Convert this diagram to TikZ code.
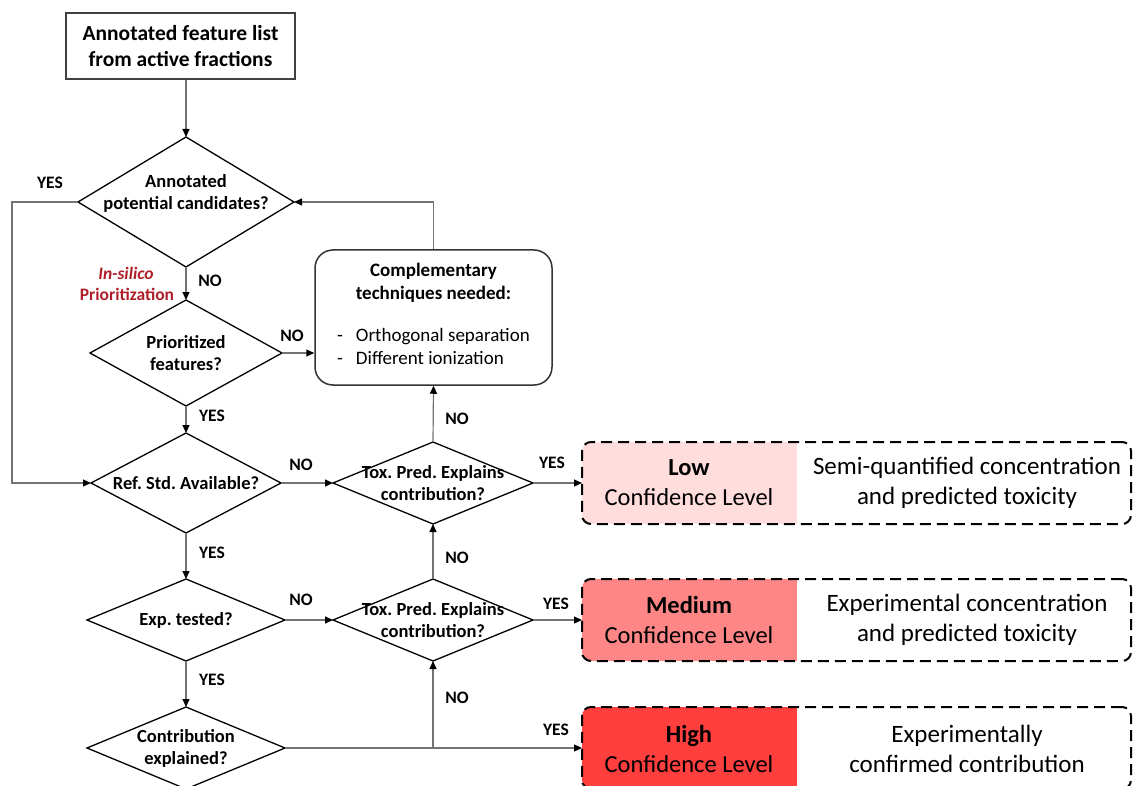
\documentclass[tikz,border=0pt]{standalone}
\usepackage{fontspec}
\setmainfont{Carlito}
\frenchspacing
\usetikzlibrary{shapes.geometric,arrows.meta,backgrounds}
\definecolor{lowred}{RGB}{255,221,221}
\definecolor{medred}{RGB}{255,134,134}
\definecolor{highred}{RGB}{255,62,62}
\definecolor{silred}{RGB}{175,30,40}
\definecolor{linegray}{RGB}{115,115,115}
\tikzset{
  decision/.style={diamond, draw=black, line width=1.3pt, inner xsep=-55pt, inner ysep=-20pt,
    outer sep=0pt, align=center, font=\fontsize{18.5}{22}\selectfont\bfseries},
  flow/.style={draw=linegray, line width=1.2pt, -{Triangle[length=8pt,width=7pt,color=black]}},
  yn/.style={font=\fontsize{17.5}{20}\selectfont\bfseries},
  outcome/.style={draw=black, line width=2pt, dash pattern=on 11pt off 6pt, rounded corners=9pt,
    minimum width=549pt, minimum height=82pt, outer sep=0pt},
  lvl/.style={align=center, font=\fontsize{24.5}{30}\selectfont},
  desc/.style={align=center, font=\fontsize{25}{30}\selectfont},
  insilico/.style={text=silred, font=\fontsize{17.5}{20}\selectfont\bfseries}
}
\begin{document}
\begin{tikzpicture}[x=1pt,y=-1pt]
\useasboundingbox (0,0) rectangle (1134,786);
%\draw[help lines,step=50] (0,0) grid (1134,786);

\node[draw=black!75, line width=1.5pt, minimum width=229pt, minimum height=66pt, align=center,
  font=\fontsize{21.5}{26}\selectfont\bfseries] (feat) at (180.5,46) {Annotated feature list\\from active fractions};

\node[decision, minimum width=216pt, minimum height=130pt, text depth=20pt] (d1) at (186,202) {Annotated\\potential candidates?};
\node[decision, minimum width=192pt, minimum height=106pt] (prio) at (186,353) {Prioritized\\features?};
\node[decision, minimum width=190pt, minimum height=100pt] (ref) at (186,483) {Ref. Std. Available?};
\node[decision, minimum width=198pt, minimum height=82pt] (exp) at (186,620) {Exp. tested?};
\node[decision, minimum width=198pt, minimum height=82pt] (contr) at (186,748) {Contribution\\explained?};
\node[decision, minimum width=200pt, minimum height=82pt] (tox1) at (433,483) {Tox. Pred. Explains\\contribution?};
\node[decision, minimum width=200pt, minimum height=82pt] (tox2) at (433,620) {Tox. Pred. Explains\\contribution?};

\node[draw=black!80, line width=1.5pt, rounded corners=18pt, minimum width=237pt, minimum height=135pt,
  align=center, font=\fontsize{19}{23}\selectfont] (comp) at (433.5,317.5)
  {\textbf{Complementary}\\\textbf{techniques needed:}\\[22pt]
   \begin{tabular}{@{}l@{\hspace{13pt}}l@{}}-&Orthogonal separation\\-&Different ionization\end{tabular}};

\node[insilico, font=\fontsize{17.5}{20}\selectfont\bfseries\itshape] (insil) at (126,273) {In-silico};
\node[insilico] (prtz) at (127,294) {Prioritization};

% outcome boxes
\node[outcome] (lowbox) at (856.5,483) {};
\node[outcome] (medbox) at (856.5,620) {};
\node[outcome] (highbox) at (856.5,748) {};
\begin{scope}[on background layer]
\begin{scope}
\clip[rounded corners=9pt] (lowbox.north west) rectangle (lowbox.south east);
\fill[lowred] (lowbox.north west) rectangle ([xshift=215pt]lowbox.south west);
\end{scope}
\begin{scope}
\clip[rounded corners=9pt] (medbox.north west) rectangle (medbox.south east);
\fill[medred] (medbox.north west) rectangle ([xshift=215pt]medbox.south west);
\end{scope}
\begin{scope}
\clip[rounded corners=9pt] (highbox.north west) rectangle (highbox.south east);
\fill[highred] (highbox.north west) rectangle ([xshift=215pt]highbox.south west);
\end{scope}
\end{scope}
\node[lvl] (lowlvl) at (689,483) {\textbf{Low}\\Confidence Level};
\node[desc] (lowdesc) at (967,483) {Semi-quantified concentration\\and predicted toxicity};
\node[lvl] (medlvl) at (689,620) {\textbf{Medium}\\Confidence Level};
\node[desc] (meddesc) at (967,620) {Experimental concentration\\and predicted toxicity};
\node[lvl] (highlvl) at (689,749) {\textbf{High}\\Confidence Level};
\node[desc] (highdesc) at (967,749) {Experimentally\\confirmed contribution};

% connectors
\draw[flow] (feat.south -| d1.north) -- (d1.north);
\draw[flow] (d1.south) -- (prio.north);
\draw[flow] (prio.south) -- (ref.north);
\draw[flow] (ref.south) -- (exp.north);
\draw[flow] (exp.south) -- (contr.north);
\coordinate (yesbend) at (12,202);
\draw[flow] (d1.west) -- (yesbend) |- (ref.west);
\draw[flow] (prio.east) -- (comp.west |- prio.east);
\draw[flow] (comp.north) |- (d1.east);
\draw[flow] (ref.east) -- (tox1.west);
\draw[flow] (tox1.north) -- (comp.south);
\draw[flow] (tox1.east) -- (lowbox.west);
\draw[flow] (exp.east) -- (tox2.west);
\draw[flow] (tox2.north) -- (tox1.south);
\draw[flow] (tox2.east) -- (medbox.west);
\draw[flow] (contr.east) -- (highbox.west);
\coordinate (split) at (tox2.south |- contr.east);
\draw[flow] (split) -- (tox2.south);

% yes / no
\node[yn] (y1) at (50,183) {YES};
\node[yn] (n1) at (210,281) {NO};
\node[yn] (n2) at (292,336) {NO};
\node[yn] (y2) at (212,416) {YES};
\node[yn] (n3) at (301,465) {NO};
\node[yn] (n4) at (457,419) {NO};
\node[yn] (y3) at (552,463) {YES};
\node[yn] (y4) at (212,553) {YES};
\node[yn] (n5) at (301,600) {NO};
\node[yn] (n6) at (457,558) {NO};
\node[yn] (y5) at (556,604) {YES};
\node[yn] (y6) at (212,680) {YES};
\node[yn] (n7) at (457,698) {NO};
\node[yn] (y7) at (556,730) {YES};
\end{tikzpicture}
\end{document}
